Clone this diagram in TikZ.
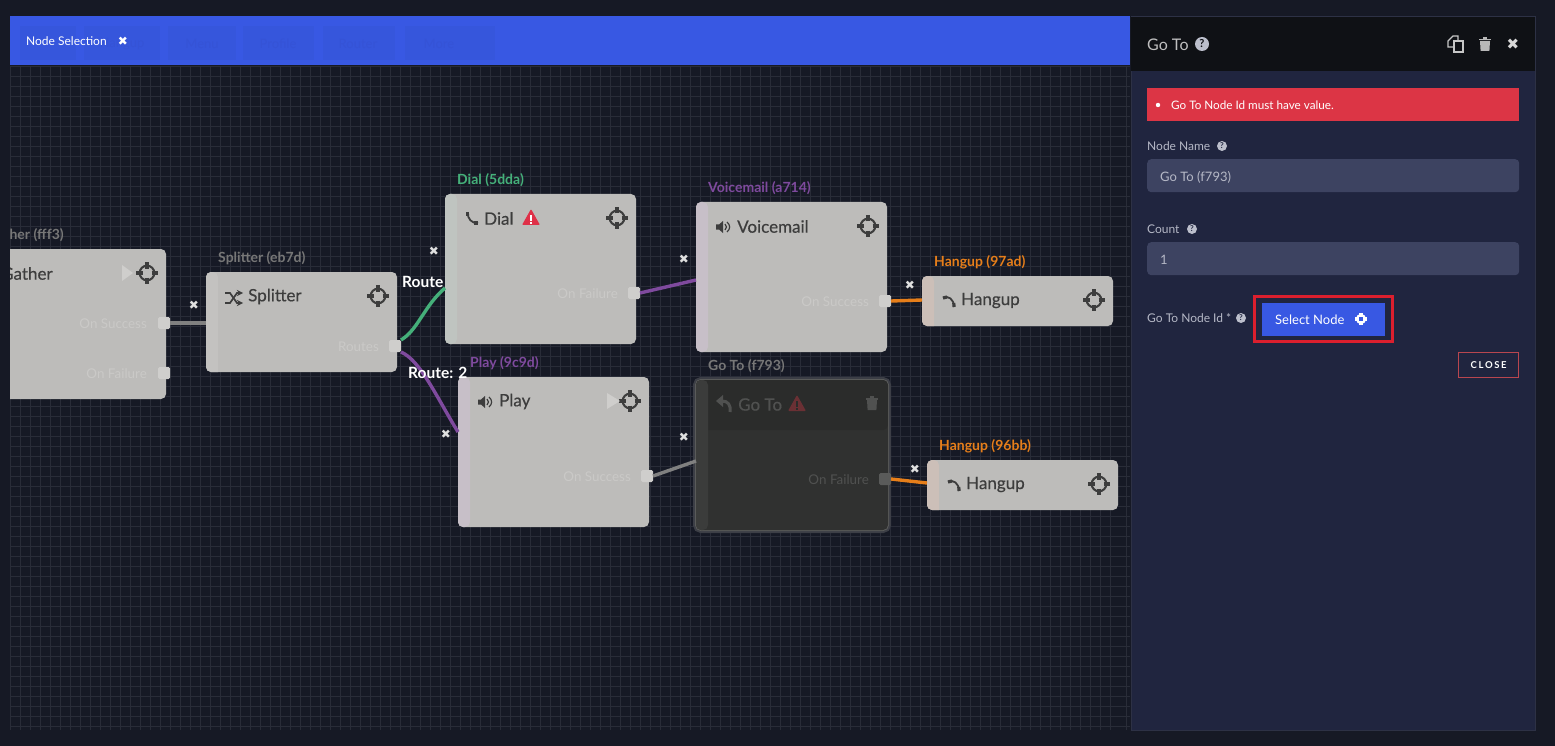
\documentclass[tikz,border=0pt]{standalone}
\usepackage{fontspec}
\setmainfont{Lato}
\newfontfamily\symfont{DejaVu Sans}
\newfontfamily\titlefont[FakeBold=0.5]{Lato}
\usetikzlibrary{positioning, calc}

\definecolor{pagebg}{HTML}{161925}
\definecolor{gridgrey}{HTML}{292C38}
\definecolor{barblue}{HTML}{3858E3}
\definecolor{tabblue}{HTML}{3656DC}
\definecolor{tabtext}{HTML}{3553D6}
\definecolor{panelbg}{HTML}{20253F}
\definecolor{panelline}{HTML}{2D3145}
\definecolor{paneltop}{HTML}{0F1115}
\definecolor{fieldbg}{HTML}{3D4361}
\definecolor{fieldtext}{HTML}{B5B8C6}
\definecolor{alertred}{HTML}{DC3545}
\definecolor{framered}{HTML}{DB1F2E}
\definecolor{closeline}{HTML}{B9464F}
\definecolor{boxgrey}{HTML}{BDBCBA}
\definecolor{inkgrey}{HTML}{3D3D3D}
\definecolor{portgrey}{HTML}{CFCECC}
\definecolor{faintgrey}{HTML}{CAC9C7}
\definecolor{stripegrey}{HTML}{C3C2C0}
\definecolor{stripegreen}{HTML}{BFC4C0}
\definecolor{stripepurple}{HTML}{C7BFC8}
\definecolor{stripeorange}{HTML}{CCBFB8}
\definecolor{stripedark}{HTML}{3B3C3B}
\definecolor{gotobody}{HTML}{303130}
\definecolor{gototop}{HTML}{2B2C2B}
\definecolor{gotoink}{HTML}{505150}
\definecolor{gotoedge}{HTML}{5A5B5A}
\definecolor{gotoglow}{HTML}{3C3E46}
\definecolor{tagdial}{HTML}{45B07A}
\definecolor{tagpurple}{HTML}{7F4A9E}
\definecolor{tagorange}{HTML}{E67E1A}
\definecolor{taggrey}{HTML}{777777}
\definecolor{wiregrey}{HTML}{808080}
\definecolor{warnred}{HTML}{DF3048}
\definecolor{warndark}{HTML}{6A3034}

\tikzset{
	warnmark/.style={fill=white},
	crosshair/.pic={
		\draw[line width=2.1pt] (0,0) circle (7.3pt);
		\foreach \a in {0,90,180,270}
		\draw[line width=3.2pt] (\a:4.5pt) -- (\a:11pt);
	},
	phoneicon/.pic={
		\draw[line width=1.8pt] (-4,-5) .. controls (-5,0) and (0,6) .. (6,5);
		\draw[line width=3.2pt] (-4.5,-6) -- (-4.5,-2);
		\draw[line width=3.2pt] (2,5) -- (6,5);
	},
	hangicon/.pic={
		\draw[line width=1.8pt] (-6,-3) .. controls (-1,-6) and (5,-2) .. (5,6);
		\draw[line width=3.2pt] (-6,-3) -- (-2,-4);
		\draw[line width=3.2pt] (4.8,2) -- (5,6);
	},
	speakericon/.pic={
		\fill (-7,-2.5) -- (-4,-2.5) -- (0,-6) -- (0,6) -- (-4,2.5) -- (-7,2.5) -- cycle;
		\draw[line width=1.2pt] (2,-3) .. controls (4,-1) and (4,1) .. (2,3);
		\draw[line width=1.2pt] (4,-5) .. controls (7.5,-2) and (7.5,2) .. (4,5);
	},
	shuffleicon/.pic={
		\draw[line width=1.7pt,->,>=stealth] (-9,-5) -- (-4,-5) -- (3,5) -- (9,5);
		\draw[line width=1.7pt,->,>=stealth] (-9,5) -- (-4,5) -- (3,-5) -- (9,-5);
	},
	backicon/.pic={
		\fill (-8,-3) -- (-1,-9) -- (-1,3) -- cycle;
		\draw[line width=3pt] (-2,-3) .. controls (4,-3) and (7,1) .. (6,8);
	},
	warnicon/.pic={
		\fill[rounded corners=1pt] (0,-9) -- (9,7) -- (-9,7) -- cycle;
		\fill[warnmark] (-1.2,-3) rectangle (1.2,3);
		\fill[warnmark] (-1.2,4) rectangle (1.2,6);
	},
	trashicon/.pic={
		\fill (-6,-5) rectangle (6,-3.5);
		\fill (-2,-7) rectangle (2,-5);
		\fill (-5,-3) -- (5,-3) -- (4.4,7) -- (-4.4,7) -- cycle;
	},
	copyicon/.pic={
		\draw[line width=1.2pt] (-8,-3) -- (-3,-8) -- (2,-8) -- (2,3) -- (-8,3) -- cycle;
		\fill[paneltop] (-2,-3) rectangle (7,8);
		\draw[line width=1.2pt] (-2,-3) rectangle (7,8);
	},
}

\begin{document}
\begin{tikzpicture}[x=1pt,y=-1pt]
		\tikzstyle{flowbox}=[anchor=north west,rounded corners=5pt,fill=boxgrey,inner sep=0pt,outer sep=0pt]
		\tikzstyle{boxtitle}=[anchor=west,inner sep=0pt,text=inkgrey,font=\titlefont\fontsize{17}{19}\selectfont]
		\tikzstyle{boxtag}=[anchor=west,inner sep=0pt,font=\bfseries\fontsize{14}{16}\selectfont]
		\tikzstyle{portbox}=[rounded corners=1.5pt,fill=portgrey,minimum size=12pt,inner sep=0pt,outer sep=0pt]
		\tikzstyle{porttext}=[anchor=east,inner sep=0pt,text=faintgrey,font=\fontsize{13.4}{15}\selectfont]
		\tikzstyle{wire}=[line width=3.4pt]
		\tikzstyle{xmark}=[inner sep=0pt,text=white!88!black,font=\symfont\fontsize{12}{14}\selectfont]
		\tikzstyle{routetext}=[anchor=west,inner sep=0pt,text=white,font=\bfseries\fontsize{15.5}{17}\selectfont]
		\tikzstyle{tabtitle}=[inner sep=0pt,text=tabtext,font=\fontsize{13}{15}\selectfont]
		\tikzstyle{fieldlabel}=[anchor=west,inner sep=0pt,text=fieldtext,font=\fontsize{12}{14}\selectfont]
		\tikzstyle{fieldbox}=[anchor=north west,rounded corners=4pt,fill=fieldbg,minimum width=372pt,minimum height=33pt,inner sep=0pt]
		\tikzstyle{fieldvalue}=[anchor=west,inner sep=0pt,text=fieldtext,font=\fontsize{13}{15}\selectfont]
		\tikzstyle{helpmark}=[circle,fill=fieldtext!90!white,text=panelbg,inner sep=0pt,minimum size=10pt,font=\bfseries\fontsize{8}{9}\selectfont]
		
		\useasboundingbox (0,0) rectangle (1555,746);
		\fill[pagebg] (0,0) rectangle (1555,746);
		
		%% Canvas
		\begin{scope}
			\clip (10,16) rectangle (1130,730);
			\foreach \gx in {10,20,...,1110,1126}
			\draw[gridgrey,line width=.9pt] (\gx,66) -- (\gx,730);
			\foreach \gy in {66,76,...,726}
			\draw[gridgrey,line width=.9pt] (10,\gy) -- (1130,\gy);
			
			% Top bar with the tabs behind it
			\fill[barblue] (10,16) rectangle (1130,65);
			\foreach \tx/\tw in {20/56,84/76,168/68,243/71,323/72,405/90}
			\fill[tabblue] (\tx,26) rectangle ++(\tw,34);
			\foreach \tname/\tx/\ttext in {hangup/122/Hangup,menu/202/Menu,profile/278/Profile,router/358/Router,more/439/More}
			\node [tabtitle] (tab-\tname) at (\tx,44) {\ttext};
			\node [anchor=west,inner sep=0pt,text=white,font=\fontsize{12}{14}\selectfont] (selection) at (26,41.5) {Node Selection};
			\node [xmark,text=white] (selectionx) at (123,41) {✖};
			
			%% Boxes
			\foreach \bname/\posx/\posy/\boxw/\boxh/\bstripe in {
				gather/-25/249/191/150/stripegrey,
				splitter/206/272/191/100/stripegrey,
				dial/445/194/191/150/stripegreen,
				voicemail/696/202/191/150/stripepurple,
				hangupa/922/276/191/50/stripeorange,
				play/458/377/191/150/stripepurple,
				hangupb/927/460/191/50/stripeorange}
			\node [flowbox,minimum width=\boxw pt,minimum height=\boxh pt,
			path picture={\fill[\bstripe] (path picture bounding box.north west) rectangle ++(12pt,-150pt);}] (\bname) at (\posx,\posy) {};
			
			\node [flowbox,minimum width=192pt,minimum height=150pt,fill=gotobody,
			preaction={draw=gotoglow,line width=6pt},
			preaction={draw=gotoedge,line width=2pt},
			path picture={\fill[gototop] (path picture bounding box.north west) rectangle ++(192pt,-50pt);
				\fill[stripedark] (path picture bounding box.north west) rectangle ++(12pt,-150pt);}] (goto) at (696,380) {};
			
			%% Titles and tags
			\foreach \bname/\tx/\ttl/\ttag/\tcol in {
				gather/26/Gather/Gather (fff3)/taggrey,
				splitter/42/Splitter/Splitter (eb7d)/taggrey,
				dial/39/Dial/Dial (5dda)/tagdial,
				voicemail/41/Voicemail/Voicemail (a714)/tagpurple,
				hangupa/39/Hangup/Hangup (97ad)/tagorange,
				play/41/Play/Play (9c9d)/tagpurple,
				hangupb/39/Hangup/Hangup (96bb)/tagorange}
			{
				\node [boxtitle] (\bname-title) at ($(\bname.north west)+(\tx,24.5)$) {\ttl};
				\node [boxtag,text=\tcol] (\bname-tag) at ($(\bname.north west)+(12,-14)$) {\ttag};
			}
			\node [boxtitle,text=gotoink] (goto-title) at ($(goto.north west)+(42,24.5)$) {Go To};
			\node [boxtag,text=taggrey] (goto-tag) at ($(goto.north west)+(12,-14)$) {Go To (f793)};
			
			%% Box icons
			\foreach \bname in {gather,splitter,dial,voicemail,hangupa,play,hangupb}
			\pic[color=inkgrey] at ($(\bname.north east)+(-19,24)$) {crosshair};
			\pic[color=inkgrey] at (234,298) {shuffleicon};
			\pic[color=inkgrey] at (472,218) {phoneicon};
			\pic[color=warnred] at (531,218) {warnicon};
			\pic[color=inkgrey] at (723,227) {speakericon};
			\pic[color=inkgrey] at (949,301) {hangicon};
			\pic[color=inkgrey] at (485,402) {speakericon};
			\pic[color=inkgrey] at (954,485) {hangicon};
			\pic[color=gotoink] at (724,404) {backicon};
			\pic[color=warndark,warnmark/.style={fill=gototop}] at (797,404) {warnicon};
			\pic[color=gotoink] at (872,403) {trashicon};
			\fill[portgrey] (122,265) -- (133,273) -- (122,281) -- cycle;
			\fill[portgrey] (607,393) -- (620,401) -- (607,409) -- cycle;
			
			%% Ports
			\node [portbox] (gather-ok) at (164,323) {};
			\node [portbox] (gather-fail) at (164,373) {};
			\node [portbox] (splitter-routes) at (395,346) {};
			\node [portbox] (dial-fail) at (634,293) {};
			\node [portbox] (voicemail-ok) at (885,301) {};
			\node [portbox] (play-ok) at (647,476) {};
			\node [portbox,fill=gotoedge] (goto-fail) at (885,479) {};
			
			\node [porttext] (gather-oktext) at (147,323.5) {On Success};
			\node [porttext] (gather-failtext) at (147,373.5) {On Failure};
			\node [porttext] (splitter-text) at (379,346.5) {Routes};
			\node [porttext] (dial-text) at (618,293.5) {On Failure};
			\node [porttext] (voicemail-text) at (869,301.5) {On Success};
			\node [porttext] (play-text) at (631,476.5) {On Success};
			\node [porttext,text=gotoink] (goto-text) at (869,479.5) {On Failure};
			
			%% Connectors
			\draw[wire,wiregrey] (gather-ok.east) -- ([yshift=-1pt]splitter.west);
			\draw[wire,tagdial] (splitter-routes.north east) .. controls (418,330) and (424,306) .. ([yshift=-19pt]dial.west);
			\draw[wire,tagpurple] (splitter-routes.south east) .. controls (420,360) and (436,396) .. ([yshift=20pt]play.west);
			\draw[wire,tagpurple] (dial-fail.east) -- ([yshift=-3pt]voicemail.west);
			\draw[wire,tagorange] (voicemail-ok.east) -- ([yshift=1pt]hangupa.west);
			\draw[wire,wiregrey] (play-ok.east) -- ([yshift=-6pt]goto.west);
			\draw[wire,tagorange] (goto-fail.east) -- ([yshift=2pt]hangupb.west);
			
			\node [routetext] (route1) at (402,282) {Route};
			\node [routetext] (route2) at (408,373) {Route: 2};
			
			\foreach \xid/\xx/\xy in {a/194/305,b/434/251,c/684/259,d/910/285,e/446/434,f/684/437,g/915/469}
			\node [xmark] (remove-\xid) at (\xx,\xy) {✖};
		\end{scope}
		
		%% Side panel
		\fill[panelbg,draw=panelline,line width=1pt] (1131,16.5) rectangle (1535,730);
		\fill[paneltop] (1131,17) rectangle (1535,71);
		\node [anchor=west,inner sep=0pt,text=white!75!black,font=\fontsize{16}{18}\selectfont] (paneltitle) at (1147,45) {Go To};
		\node [helpmark,minimum size=14pt,font=\bfseries\fontsize{11}{12}\selectfont,text=paneltop] (paneltitle-help) at (1202,44) {?};
		\pic[color=white!78!black] at (1456,44) {copyicon};
		\pic[color=white!72!black] at (1485,44) {trashicon};
		\node [xmark,text=white!85!black,font=\symfont\fontsize{15}{17}\selectfont] (panelx) at (1513,44) {✖};
		
		\node [anchor=north west,fill=alertred,minimum width=372pt,minimum height=33pt,inner sep=0pt] (alert) at (1147,88) {};
		\node [circle,fill=white,inner sep=0pt,minimum size=4.4pt] (alertdot) at (1158,105) {};
		\node [anchor=west,inner sep=0pt,text=white,font=\fontsize{11.7}{14}\selectfont] (alerttext) at (1171,105) {Go To Node Id must have value.};
		
		\node [fieldlabel] (namelabel) at (1147,146) {Node Name};
		\node [helpmark] (namehelp) at (1222,146) {?};
		\node [fieldbox] (namefield) at (1147,159) {};
		\node [fieldvalue] (namevalue) at (1160,177) {Go To (f793)};
		
		\node [fieldlabel] (countlabel) at (1147,229) {Count};
		\node [helpmark] (counthelp) at (1192,229) {?};
		\node [fieldbox] (countfield) at (1147,242) {};
		\node [fieldvalue] (countvalue) at (1160,260) {1};
		
		\node [fieldlabel] (idlabel) at (1147,318.5) {Go To Node Id *};
		\node [helpmark] (idhelp) at (1241,318) {?};
		
		\node [anchor=north west,fill=barblue,minimum width=123pt,minimum height=33pt,inner sep=0pt] (selectbutton) at (1262,303) {};
		\node [anchor=west,inner sep=0pt,text=white,font=\fontsize{13}{15}\selectfont] (selecttext) at (1275,319.5) {Select Node};
		\pic[color=white,scale=.55] at (1361,319) {crosshair};
		\node [anchor=north west,draw=framered,line width=3pt,minimum width=138pt,minimum height=45pt,inner sep=0pt,outer sep=0pt] (selectframe) at (1254.5,296.5) {};
		
		\node [anchor=north west,draw=closeline,line width=1.2pt,minimum width=60pt,minimum height=25pt,inner sep=0pt,text=white,font=\bfseries\fontsize{9.5}{11}\selectfont] (closebutton) at (1458,352) {C\,L\,O\,S\,E};
	\end{tikzpicture}
\end{document}
